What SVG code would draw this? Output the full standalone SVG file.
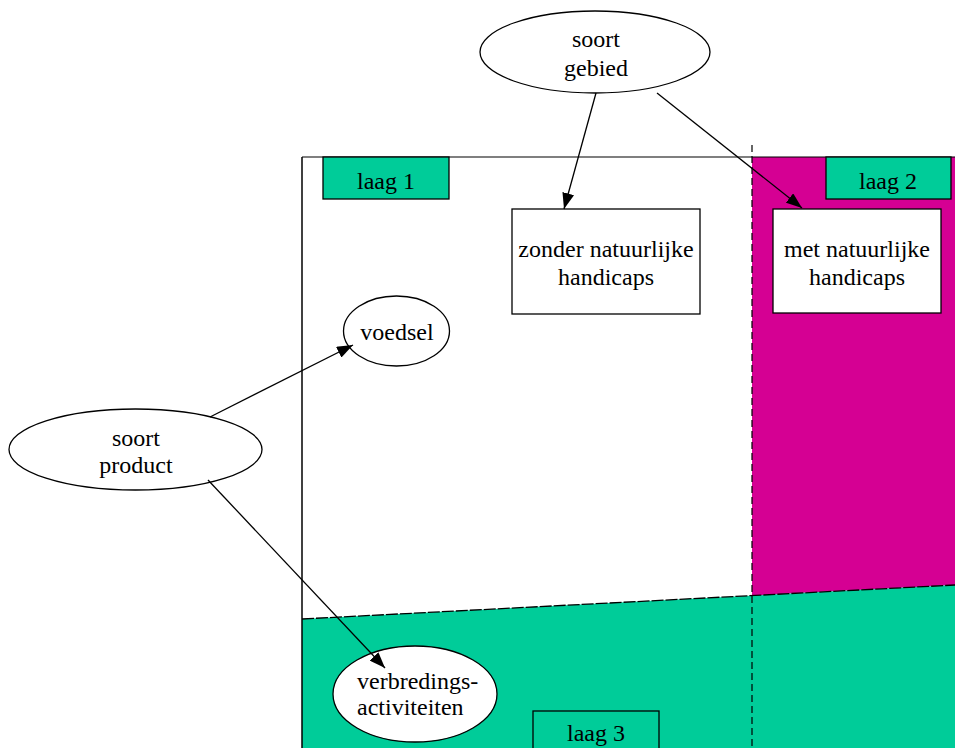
<svg xmlns="http://www.w3.org/2000/svg" width="955" height="748" viewBox="0 0 955 748">
<style>
text{font-family:"Liberation Serif","Times New Roman",serif;font-size:24px;fill:#000;text-anchor:middle}
.n{fill:#fff;stroke:#000;stroke-width:1.3}
.tag{fill:#00CC99;stroke:#000;stroke-width:1.3}
.c line{stroke:#000;stroke-width:1.3;marker-end:url(#ah)}
</style>
<defs>
<marker id="ah" viewBox="0 0 16 12" refX="16" refY="6" markerWidth="16" markerHeight="12" markerUnits="userSpaceOnUse" orient="auto">
<path d="M0,0 L16,6 L0,12 z" fill="#000"/>
</marker>
</defs>
<g id="background">
<rect x="0" y="0" width="955" height="748" fill="#fff"/>
<polygon points="752,157 955,157 955,585 752,595.6" fill="#D50093"/>
<polygon points="302,619 955,585 955,748 302,748" fill="#00CC99"/>
<line x1="302" y1="157" x2="955" y2="157" stroke="#000" stroke-width="1.2"/>
<line x1="302" y1="157" x2="302" y2="748" stroke="#000" stroke-width="1.5"/>
<line x1="752" y1="145" x2="752" y2="748" stroke="#000" stroke-width="1.2" stroke-dasharray="7,4"/>
<line x1="302" y1="619" x2="955" y2="585" stroke="#000" stroke-width="1.3" stroke-dasharray="12,2"/>
</g>
<g id="laag1"><rect class="tag" x="323" y="157" width="126" height="42"/><text x="386" y="189">laag 1</text></g>
<g id="laag2"><rect class="tag" x="826" y="157" width="125" height="42"/><text x="888" y="189">laag 2</text></g>
<g id="laag3"><rect x="533" y="711" width="126" height="50" fill="none" stroke="#000" stroke-width="1.3"/><text x="596" y="741">laag 3</text></g>
<g id="soort-gebied"><ellipse class="n" cx="595" cy="52" rx="115" ry="41"/><text x="596" y="47">soort</text><text x="596" y="76">gebied</text></g>
<g id="zonder"><rect class="n" x="512" y="209" width="188" height="105"/><text x="606" y="257">zonder natuurlijke</text><text x="606" y="285">handicaps</text></g>
<g id="met"><rect class="n" x="773" y="209" width="168" height="104"/><text x="857" y="257">met natuurlijke</text><text x="857" y="285">handicaps</text></g>
<g id="voedsel"><ellipse class="n" cx="396.5" cy="331" rx="53" ry="35"/><text x="397" y="340">voedsel</text></g>
<g id="soort-product"><ellipse class="n" cx="135.5" cy="449.5" rx="126.5" ry="40.5"/><text x="136" y="446">soort</text><text x="136" y="473">product</text></g>
<g id="verbredings"><ellipse class="n" cx="415" cy="694" rx="82" ry="48"/><text x="357" y="689" style="text-anchor:start">verbredings-</text><text x="357" y="715" style="text-anchor:start">activiteiten</text></g>
<g class="c" id="connectors">
<line x1="596" y1="93" x2="564" y2="209"/>
<line x1="657" y1="93" x2="802" y2="208"/>
<line x1="210" y1="417" x2="353" y2="345"/>
<line x1="208" y1="480" x2="385" y2="668"/>
</g>
</svg>
